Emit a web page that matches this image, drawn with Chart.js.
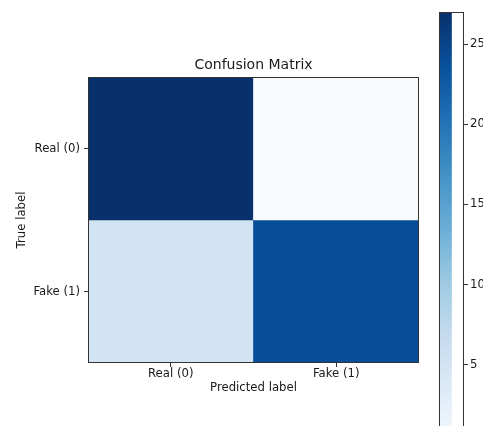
<!DOCTYPE html>
<html>
<head>
<meta charset="utf-8">
<script src="https://cdn.jsdelivr.net/npm/chart.js@4.4.1/dist/chart.umd.min.js"></script>
<style>
html,body{margin:0;padding:0;background:#fff;overflow:hidden;width:483px;height:426px;}
#main{position:absolute;left:0;top:0;}
#cbar{position:absolute;left:430px;top:0;}
</style>
</head>
<body>
<canvas id="main" width="430" height="426"></canvas>
<canvas id="cbar" width="80" height="460"></canvas>
<script>
// ---- data ----
const categories = ['Real (0)', 'Fake (1)'];
const rowReal = [27, 0];   // true Real: predicted Real, predicted Fake
const rowFake = [5, 24];   // true Fake: predicted Real, predicted Fake
const colorbarTicks = [5, 10, 15, 20, 25];
const titleText = 'Confusion Matrix';
const xTitle = 'Predicted label';
const yTitle = 'True label';

const rows = [rowReal, rowFake];
const allVals = rows.flat();
const vmin = Math.min(...allVals);
const vmax = Math.max(...allVals);

// matplotlib "Blues" colormap
const bluesStops = ['#f7fbff','#deebf7','#c6dbef','#9ecae1','#6baed6','#4292c6','#2171b5','#08519c','#08306b'];
function hex2rgb(h){return [parseInt(h.slice(1,3),16),parseInt(h.slice(3,5),16),parseInt(h.slice(5,7),16)];}
function blues(t){
  t = Math.max(0, Math.min(1, t));
  const n = bluesStops.length - 1;
  const i = Math.min(n - 1, Math.floor(t * n));
  const f = t * n - i;
  const a = hex2rgb(bluesStops[i]), b = hex2rgb(bluesStops[i+1]);
  const c = a.map((v,k)=>Math.round(v + (b[k]-v)*f));
  return 'rgb(' + c.join(',') + ')';
}

const FONT = 'DejaVu Sans';
const TXT = '#1a1a1a';

const frame = {
  id: 'frame',
  afterDatasetsDraw(chart){
    const {ctx, chartArea:a} = chart;
    ctx.save();
    ctx.strokeStyle = '#333';
    ctx.lineWidth = 1;
    ctx.strokeRect(Math.round(a.left)+0.5, Math.round(a.top)+0.5, Math.round(a.right-a.left)-1, Math.round(a.bottom-a.top)-1);
    ctx.restore();
  }
};

const datasets = rows.map((row, r) => ({
  label: categories[r],
  data: row.map((v, c) => ({x: categories[c], y: [r - 0.5, r + 0.5], v: v})),
  backgroundColor: ctx => blues((ctx.raw.v - vmin) / (vmax - vmin)),
  borderWidth: 0,
  borderSkipped: false,
  barPercentage: 1,
  categoryPercentage: 1,
  grouped: false
}));

new Chart(document.getElementById('main'), {
  type: 'bar',
  data: { labels: categories, datasets: datasets },
  options: {
    responsive: false,
    animation: false,
    layout: { padding: { left: 0, right: 11, top: 0, bottom: 0 } },
    plugins: {
      legend: { display: false },
      tooltip: { enabled: false },
      title: { display: false }
    },
    scales: {
      x: {
        type: 'category',
        offset: true,
        grid: { offset: false, drawOnChartArea: false, drawTicks: true, tickLength: 4, color: '#333' },
        border: { display: false },
        ticks: { color: TXT, font: { family: FONT, size: 11.7 }, padding: 0, maxRotation: 0 },
        title: { display: true, text: xTitle, color: TXT, font: { family: FONT, size: 11.7 }, padding: { top: 0, bottom: 31 } },
        afterFit: s => { s.height = 63; }
      },
      xTop: {
        type: 'category',
        position: 'top',
        offset: true,
        grid: { display: false },
        border: { display: false },
        ticks: { display: false },
        title: { display: true, text: titleText, color: TXT, font: { family: FONT, size: 14 }, padding: { top: 57, bottom: 0 } },
        afterFit: s => { s.height = 77; }
      },
      y: {
        type: 'linear',
        min: -0.5, max: 1.5,
        reverse: true,
        afterBuildTicks: s => { s.ticks = categories.map((_, i) => ({ value: i })); },
        grid: { drawOnChartArea: false, drawTicks: true, tickLength: 4, color: '#333' },
        border: { display: false },
        ticks: { color: TXT, font: { family: FONT, size: 11.7 }, padding: 4, callback: v => categories[v] },
        title: { display: true, text: yTitle, color: TXT, font: { family: FONT, size: 11.7 }, padding: { top: 15, bottom: 0 } },
        afterFit: s => { s.width = 88; }
      }
    }
  },
  plugins: [frame]
});

// ---- colorbar ----
new Chart(document.getElementById('cbar'), {
  type: 'bar',
  data: {
    labels: [''],
    datasets: [{
      data: [[vmin, vmax]],
      backgroundColor: ctx => {
        const chart = ctx.chart;
        const y = chart.scales.y;
        if (!chart.chartArea || !y) return '#6baed6';
        const g = chart.ctx.createLinearGradient(0, y.getPixelForValue(vmin), 0, y.getPixelForValue(vmax));
        bluesStops.forEach((c, i) => g.addColorStop(i / (bluesStops.length - 1), c));
        return g;
      },
      borderWidth: 0,
      borderSkipped: false,
      barPercentage: 1,
      categoryPercentage: 1
    }]
  },
  options: {
    responsive: false,
    animation: false,
    layout: { padding: { left: 9, right: 0, top: 12, bottom: 15 } },
    plugins: { legend: { display: false }, tooltip: { enabled: false }, title: { display: false } },
    scales: {
      x: { display: false, offset: false },
      y: {
        position: 'right',
        min: vmin, max: vmax,
        afterBuildTicks: s => { s.ticks = colorbarTicks.map(v => ({ value: v })); },
        grid: { drawOnChartArea: false, drawTicks: true, tickLength: 4, color: '#333' },
        border: { display: false },
        ticks: { color: TXT, font: { family: FONT, size: 11.7 }, padding: 2 },
        afterFit: s => { s.width = 46; }
      }
    }
  },
  plugins: [frame]
});
</script>
</body>
</html>
